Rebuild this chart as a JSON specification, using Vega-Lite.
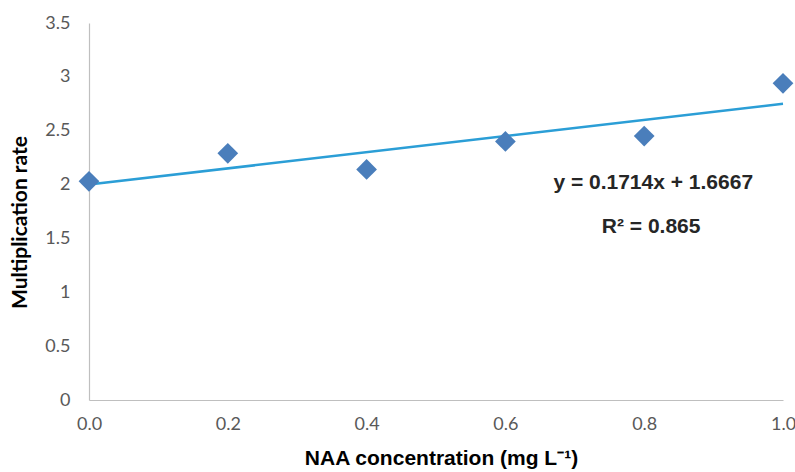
{
  "$schema": "https://vega.github.io/schema/vega-lite/v6.json",
  "width": 694,
  "height": 377,
  "autosize": {"type": "none"},
  "padding": {"left": 89, "top": 23, "right": 12, "bottom": 72},
  "background": "white",
  "config": {
    "view": {"stroke": null},
    "axis": {"grid": false, "domainColor": "#bfbfbf", "domainWidth": 1.2, "ticks": false, "labelColor": "#595959", "labelFont": "Lato", "labelFontSize": 18, "titleColor": "#000000"}
  },
  "datasets": {
    "pts": [
      {"naa": 0.0, "rate": 2.03},
      {"naa": 0.2, "rate": 2.29},
      {"naa": 0.4, "rate": 2.14},
      {"naa": 0.6, "rate": 2.40},
      {"naa": 0.8, "rate": 2.45},
      {"naa": 1.0, "rate": 2.94}
    ],
    "trend": [
      {"naa": 0.0, "rate": 2.0},
      {"naa": 1.0, "rate": 2.75}
    ],
    "notes": [
      {"naa": 0.813, "rate": 2.015, "label": "y = 0.1714x + 1.6667"},
      {"naa": 0.81, "rate": 1.606, "label": "R² = 0.865"}
    ]
  },
  "layer": [
    {
      "data": {"name": "trend"},
      "mark": {"type": "line", "color": "#2b9ed6", "strokeWidth": 2.5},
      "encoding": {
        "x": {"field": "naa", "type": "quantitative", "scale": {"domain": [0, 1]},
          "axis": {"values": [0, 0.2, 0.4, 0.6, 0.8, 1.0], "format": ".1f", "labelPadding": 15, "labelFlush": false,
            "title": "NAA concentration (mg L⁻¹)", "titleFont": "Liberation Sans", "titleFontSize": 21, "titleFontWeight": "bold",
            "titleX": 352, "titleY": 58, "titleBaseline": "middle", "titleAlign": "center"}},
        "y": {"field": "rate", "type": "quantitative", "scale": {"domain": [0, 3.5]},
          "axis": {"values": [0, 0.5, 1, 1.5, 2, 2.5, 3, 3.5], "format": "~g", "labelPadding": 19,
            "title": "Multiplication rate", "titleFont": "Lato", "titleFontSize": 21, "titleFontWeight": "bold",
            "titleAngle": -90, "titleX": -69, "titleY": 199, "titleBaseline": "middle", "titleAlign": "center"}}
      }
    },
    {
      "data": {"name": "pts"},
      "mark": {"type": "point", "shape": "diamond", "filled": true, "color": "#4a7ebb", "opacity": 1, "size": 430},
      "encoding": {
        "x": {"field": "naa", "type": "quantitative"},
        "y": {"field": "rate", "type": "quantitative"}
      }
    },
    {
      "data": {"name": "notes"},
      "mark": {"type": "text", "font": "Liberation Sans", "fontWeight": "bold", "fontSize": 21, "color": "#262626", "align": "center", "baseline": "middle"},
      "encoding": {
        "x": {"field": "naa", "type": "quantitative"},
        "y": {"field": "rate", "type": "quantitative"},
        "text": {"field": "label"}
      }
    }
  ]
}
